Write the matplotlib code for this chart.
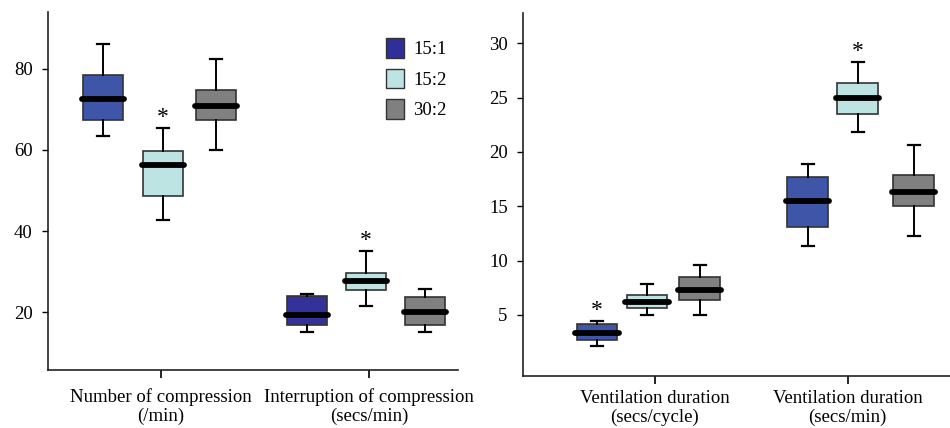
import numpy as np
import matplotlib.pyplot as plt
from matplotlib.patches import Patch

plt.rcParams['font.family'] = ['Liberation Serif', 'DejaVu Serif']

groups = ['15:1', '15:2', '30:2']
colors = ['#3f55a8', '#bde3e3', '#808080']
dark_blue = '#32329a'

# left panel: (whislo, q1, med, q3, whishi) for each box
left_labels = ['Number of compression\n(/min)', 'Interruption of compression\n(secs/min)']
left_stats = [
    [(63.5, 67.4, 72.6, 78.6, 86.2), (42.7, 48.6, 56.2, 59.8, 65.3), (59.9, 67.4, 70.9, 74.9, 82.5)],
    [(15.1, 16.8, 19.3, 23.9, 24.4), (21.6, 25.4, 27.7, 29.7, 35.1), (15.1, 16.9, 19.9, 23.6, 25.8)],
]
left_stars = [(0, 1), (1, 1)]

right_labels = ['Ventilation duration\n(secs/cycle)', 'Ventilation duration\n(secs/min)']
right_stats = [
    [(2.1, 2.7, 3.3, 4.15, 4.4), (5.0, 5.6, 6.2, 6.85, 7.85), (5.0, 6.4, 7.3, 8.5, 9.6)],
    [(11.3, 13.1, 15.45, 17.7, 18.9), (21.8, 23.5, 25.0, 26.35, 28.3), (12.3, 15.0, 16.35, 17.85, 20.6)],
]
right_stars = [(0, 0), (1, 1)]

fig = plt.figure(figsize=(9.5, 4.28), dpi=100)
ax1 = fig.add_axes([0.0505, 0.1355, 0.4316, 0.836])
ax2 = fig.add_axes([0.5505, 0.122, 0.449, 0.848])


def draw(ax, stats, positions, width, stars, face_override=None):
    items = []
    faces = []
    pos = []
    for g, grp in enumerate(stats):
        for k, (lo, q1, med, q3, hi) in enumerate(grp):
            items.append(dict(whislo=lo, q1=q1, med=med, q3=q3, whishi=hi, fliers=[]))
            fc = colors[k]
            if face_override and (g, k) in face_override:
                fc = face_override[(g, k)]
            faces.append(fc)
            pos.append(positions[g][k])
    bp = ax.bxp(items, positions=pos, widths=width, patch_artist=True,
                showfliers=False, capwidths=width * 0.3,
                boxprops=dict(edgecolor='#333333', linewidth=1.2),
                whiskerprops=dict(color='black', linewidth=1.4),
                capprops=dict(color='black', linewidth=1.6),
                medianprops=dict(visible=False))
    for patch, fc in zip(bp['boxes'], faces):
        patch.set_facecolor(fc)
    for it, p in zip(items, pos):
        ax.plot([p - width * 0.53, p + width * 0.53], [it['med'], it['med']],
                color='black', lw=4.2, solid_capstyle='round', zorder=4)
    for g, k in stars:
        p = positions[g][k]
        hi = stats[g][k][4]
        ax.text(p, hi, '*', ha='center', va='bottom', fontsize=17)
    for s in ['top', 'right']:
        ax.spines[s].set_visible(False)
    for s in ['left', 'bottom']:
        ax.spines[s].set_color('#222222')
        ax.spines[s].set_linewidth(1.2)
    ax.tick_params(axis='y', labelsize=13.5, length=4, width=1, pad=7)


left_pos = [[-0.279, 0.01, 0.264], [0.702, 0.986, 1.269]]
draw(ax1, left_stats, left_pos, 0.192, left_stars, face_override={(1, 0): dark_blue})
ax1.set_xlim(-0.543, 1.428)
ax1.set_ylim(5.7, 94)
ax1.set_yticks([20, 40, 60, 80])
ax1.set_xticks([0, 1])
ax1.set_xticklabels(left_labels, linespacing=1.15)
ax1.tick_params(axis='x', labelsize=13.5, length=6, width=1.2, pad=7)

right_pos = [[-0.30, -0.041, 0.233], [0.793, 1.052, 1.342]]
draw(ax2, right_stats, right_pos, 0.212, right_stars)
ax2.set_xlim(-0.684, 1.528)
ax2.set_ylim(-0.6, 32.8)
ax2.set_yticks([5, 10, 15, 20, 25, 30])
ax2.set_xticks([0, 1])
ax2.set_xticklabels(right_labels, linespacing=1.15)
ax2.tick_params(axis='x', labelsize=13.5, length=6, width=1.2, pad=4)

handles = [Patch(facecolor=c, edgecolor='#333333') for c in ['#2f2f99', colors[1], colors[2]]]
ax1.legend(handles, groups, loc='upper right', bbox_to_anchor=(1.013, 0.975), frameon=False,
           fontsize=13.5, handlelength=0.95, handleheight=1.25, handletextpad=0.5, labelspacing=0.55)

fig.savefig('out.png', dpi=100)
